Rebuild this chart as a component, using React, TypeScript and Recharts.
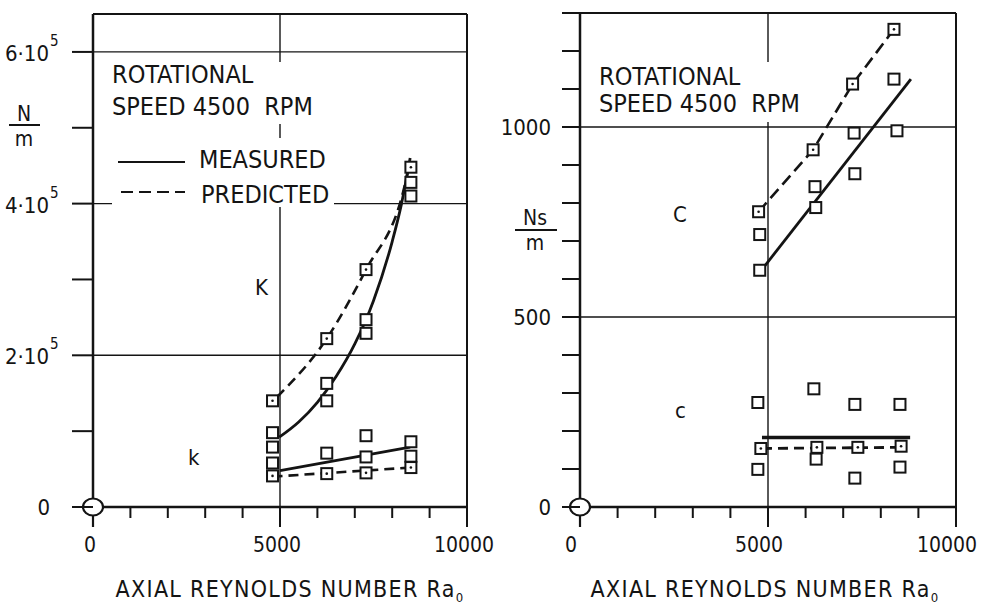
import { ComposedChart, Line, Scatter, XAxis, YAxis, ReferenceLine, ReferenceDot } from "recharts";

const FONT = "'DejaVu Sans Condensed', 'DejaVu Sans', sans-serif";
const INK = "#141414";

// Reynolds number ticks shared by both panels
const xTicks = [0, 1000, 2000, 3000, 4000, 5000, 6000, 7000, 8000, 9000, 10000];

// stiffness panel (N/m)
const stiffTicks = [0, 100000, 200000, 300000, 400000, 500000, 600000];
const stiffGrid = [200000, 400000, 600000];

const bigKMeasured = [
  { x: 4800, y: 98000 },
  { x: 6250, y: 163000 },
  { x: 6250, y: 140000 },
  { x: 7300, y: 247000 },
  { x: 7300, y: 229000 },
  { x: 8500, y: 428000 },
  { x: 8500, y: 410000 },
];
const bigKPredicted = [
  { x: 4800, y: 140000 },
  { x: 6250, y: 222000 },
  { x: 7300, y: 313000 },
  { x: 8500, y: 448000 },
];
const bigKMeasuredCurve = [
  { x: 4980, y: 92000 },
  { x: 5500, y: 112000 },
  { x: 6000, y: 138000 },
  { x: 6500, y: 172000 },
  { x: 7000, y: 215000 },
  { x: 7500, y: 272000 },
  { x: 8000, y: 350000 },
  { x: 8250, y: 400000 },
  { x: 8480, y: 460000 },
];
const bigKPredictedCurve = [
  { x: 4920, y: 145000 },
  { x: 6250, y: 222000 },
  { x: 7300, y: 313000 },
  { x: 8290, y: 415000 },
  { x: 8480, y: 455000 },
];

const smallKMeasured = [
  { x: 4800, y: 79000 },
  { x: 4800, y: 58000 },
  { x: 6250, y: 71000 },
  { x: 7300, y: 94000 },
  { x: 7300, y: 66000 },
  { x: 8500, y: 86000 },
  { x: 8500, y: 67000 },
];
const smallKPredicted = [
  { x: 4800, y: 41000 },
  { x: 6250, y: 44000 },
  { x: 7300, y: 45000 },
  { x: 8500, y: 52000 },
];
const smallKMeasuredLine = [
  { x: 5000, y: 48000 },
  { x: 8480, y: 79000 },
];
const smallKPredictedLine = [
  { x: 4800, y: 40000 },
  { x: 8500, y: 52000 },
];

// damping panel (Ns/m)
const dampTicks = [0, 100, 200, 300, 400, 500, 600, 700, 800, 900, 1000, 1100, 1200, 1300];
const dampGrid = [500, 1000];

const bigCMeasured = [
  { x: 4780, y: 717 },
  { x: 4780, y: 623 },
  { x: 6250, y: 843 },
  { x: 6270, y: 788 },
  { x: 7290, y: 984 },
  { x: 7310, y: 877 },
  { x: 8350, y: 1126 },
  { x: 8430, y: 990 },
];
const bigCPredicted = [
  { x: 4750, y: 777 },
  { x: 6200, y: 940 },
  { x: 7250, y: 1113 },
  { x: 8350, y: 1257 },
];
const bigCMeasuredLine = [
  { x: 4800, y: 620 },
  { x: 8800, y: 1126 },
];

const smallCMeasured = [
  { x: 4730, y: 275 },
  { x: 6220, y: 311 },
  { x: 7310, y: 270 },
  { x: 8510, y: 270 },
  { x: 4730, y: 99 },
  { x: 6280, y: 126 },
  { x: 7310, y: 76 },
  { x: 8510, y: 105 },
];
const smallCPredicted = [
  { x: 4810, y: 154 },
  { x: 6300, y: 157 },
  { x: 7390, y: 157 },
  { x: 8540, y: 160 },
];
const smallCMeasuredLine = [
  { x: 4840, y: 183 },
  { x: 8780, y: 183 },
];
const smallCPredictedLine = [
  { x: 4840, y: 154 },
  { x: 8640, y: 157 },
];

const OpenSquare = (p: any) => (
  <rect x={p.cx - 5.5} y={p.cy - 5.5} width={11} height={11} fill="#fff" stroke={INK} strokeWidth={2} />
);

const DotSquare = (p: any) => (
  <g>
    <rect x={p.cx - 5.5} y={p.cy - 5.5} width={11} height={11} fill="#fff" stroke={INK} strokeWidth={2} />
    <circle cx={p.cx} cy={p.cy} r={1.3} fill={INK} />
  </g>
);

const OriginMark = (p: any) => (
  <g>
    <line x1={p.cx} x2={p.cx} y1={p.cy} y2={p.cy + 20} stroke={INK} strokeWidth={2.2} />
    <ellipse cx={p.cx} cy={p.cy} rx={10} ry={8.5} fill="#fff" stroke={INK} strokeWidth={2.2} />
  </g>
);

const XTick = (p: any) => {
  const v = p.payload.value;
  const major = v % 5000 === 0;
  return (
    <g>
      {v !== 0 && (
        <line x1={p.x} x2={p.x} y1={p.y} y2={p.y + (major ? 20 : 11)} stroke={INK} strokeWidth={2} />
      )}
      {major && (
        <text x={p.x + (p.shift ?? 0)} y={p.y + 45} textAnchor="middle" fontSize={21} fill={INK} fontFamily={FONT}>
          {v}
        </text>
      )}
    </g>
  );
};

const StiffTick = (p: any) => {
  const v = p.payload.value;
  const exp = v / 100000;
  return (
    <g>
      <line x1={p.x - 21} x2={p.x} y1={p.y} y2={p.y} stroke={INK} strokeWidth={2} />
      {v === 0 && (
        <text x={p.x - 43} y={p.y + 8} textAnchor="end" fontSize={22} fill={INK} fontFamily={FONT}>
          0
        </text>
      )}
      {v > 0 && exp % 2 === 0 && (
        <g fontFamily={FONT} fill={INK}>
          <text x={p.x - 44} y={p.y + 9} textAnchor="end" fontSize={22}>
            {`${exp}·10`}
          </text>
          <text x={p.x - 43} y={p.y - 6} fontSize={15}>
            5
          </text>
        </g>
      )}
    </g>
  );
};

const DampTick = (p: any) => {
  const v = p.payload.value;
  return (
    <g>
      <line x1={p.x - 18} x2={p.x} y1={p.y} y2={p.y} stroke={INK} strokeWidth={2} />
      {v % 500 === 0 && (
        <text x={p.x - 29} y={p.y + 8} textAnchor="end" fontSize={22} fill={INK} fontFamily={FONT}>
          {v}
        </text>
      )}
    </g>
  );
};

const gridStroke = { stroke: INK, strokeWidth: 1.4 };

function StiffnessPanel() {
  return (
    <ComposedChart width={520} height={607} margin={{ top: 14, right: 53, bottom: 0, left: 0 }}>
      <XAxis
        type="number"
        dataKey="x"
        domain={[0, 10000]}
        ticks={xTicks}
        height={100}
        tickSize={0}
        tickMargin={0}
        tickLine={false}
        axisLine={{ stroke: INK, strokeWidth: 2.5 }}
        tick={<XTick shift={-3} />}
        interval={0}
      />
      <YAxis
        type="number"
        dataKey="y"
        domain={[0, 650000]}
        ticks={stiffTicks}
        width={93}
        tickSize={0}
        tickMargin={0}
        tickLine={false}
        axisLine={{ stroke: INK, strokeWidth: 2.5 }}
        tick={<StiffTick />}
        interval={0}
      />
      {stiffGrid.map((v) => (
        <ReferenceLine key={v} y={v} {...gridStroke} />
      ))}
      <ReferenceLine x={5000} {...gridStroke} />
      <ReferenceLine y={650000} stroke={INK} strokeWidth={2} />
      <ReferenceLine x={10000} stroke={INK} strokeWidth={2} />

      <Line data={bigKMeasuredCurve} dataKey="y" type="monotone" stroke={INK} strokeWidth={2.8} dot={false} isAnimationActive={false} />
      <Line data={bigKPredictedCurve} dataKey="y" type="monotone" stroke={INK} strokeWidth={2.6} strokeDasharray="10 6" dot={false} isAnimationActive={false} />
      <Line data={smallKMeasuredLine} dataKey="y" type="linear" stroke={INK} strokeWidth={2.8} dot={false} isAnimationActive={false} />
      <Line data={smallKPredictedLine} dataKey="y" type="linear" stroke={INK} strokeWidth={2.6} strokeDasharray="10 6" dot={false} isAnimationActive={false} />

      <Scatter data={bigKMeasured} shape={<OpenSquare />} isAnimationActive={false} />
      <Scatter data={smallKMeasured} shape={<OpenSquare />} isAnimationActive={false} />
      <Scatter data={bigKPredicted} shape={<DotSquare />} isAnimationActive={false} />
      <Scatter data={smallKPredicted} shape={<DotSquare />} isAnimationActive={false} />

      <ReferenceDot x={0} y={0} ifOverflow="visible" shape={<OriginMark />} />
    </ComposedChart>
  );
}

function DampingPanel() {
  return (
    <ComposedChart width={492} height={607} margin={{ top: 13, right: 26, bottom: 0, left: 0 }}>
      <XAxis
        type="number"
        dataKey="x"
        domain={[0, 10000]}
        ticks={xTicks}
        height={100}
        tickSize={0}
        tickMargin={0}
        tickLine={false}
        axisLine={{ stroke: INK, strokeWidth: 2.5 }}
        tick={<XTick shift={-9} />}
        interval={0}
      />
      <YAxis
        type="number"
        dataKey="y"
        domain={[0, 1300]}
        ticks={dampTicks}
        width={90}
        tickSize={0}
        tickMargin={0}
        tickLine={false}
        axisLine={{ stroke: INK, strokeWidth: 2.5 }}
        tick={<DampTick />}
        interval={0}
      />
      {dampGrid.map((v) => (
        <ReferenceLine key={v} y={v} {...gridStroke} />
      ))}
      <ReferenceLine x={5000} {...gridStroke} />
      <ReferenceLine y={1300} stroke={INK} strokeWidth={2} />
      <ReferenceLine x={10000} stroke={INK} strokeWidth={2} />

      <Line data={bigCMeasuredLine} dataKey="y" type="linear" stroke={INK} strokeWidth={2.8} dot={false} isAnimationActive={false} />
      <Line data={bigCPredicted} dataKey="y" type="linear" stroke={INK} strokeWidth={2.6} strokeDasharray="12 6" dot={false} isAnimationActive={false} />
      <Line data={smallCMeasuredLine} dataKey="y" type="linear" stroke={INK} strokeWidth={3.4} dot={false} isAnimationActive={false} />
      <Line data={smallCPredictedLine} dataKey="y" type="linear" stroke={INK} strokeWidth={2.8} strokeDasharray="10 6" dot={false} isAnimationActive={false} />

      <Scatter data={bigCMeasured} shape={<OpenSquare />} isAnimationActive={false} />
      <Scatter data={smallCMeasured} shape={<OpenSquare />} isAnimationActive={false} />
      <Scatter data={bigCPredicted} shape={<DotSquare />} isAnimationActive={false} />
      <Scatter data={smallCPredicted} shape={<DotSquare />} isAnimationActive={false} />

      <ReferenceDot x={0} y={0} ifOverflow="visible" shape={<OriginMark />} />
    </ComposedChart>
  );
}

const txt = { fontFamily: FONT, fill: INK };

function Annotations() {
  return (
    <svg width={982} height={607} style={{ position: "absolute", left: 0, top: 0, pointerEvents: "none" }}>
      {/* left panel text block */}
      <rect x={108} y={62} width={220} height={62} fill="#fff" />
      <rect x={112} y={138} width={222} height={69} fill="#fff" />
      <text x={112} y={83} fontSize={25} {...txt}>ROTATIONAL</text>
      <text x={112} y={115} fontSize={25} {...txt} style={{ whiteSpace: "pre" }}>SPEED 4500  RPM</text>
      <line x1={118} x2={185} y1={162} y2={162} stroke={INK} strokeWidth={2.2} />
      <text x={199} y={168} fontSize={25} {...txt}>MEASURED</text>
      <line x1={121} x2={185} y1={192} y2={192} stroke={INK} strokeWidth={2.2} strokeDasharray="12 6" />
      <text x={201} y={203} fontSize={25} {...txt}>PREDICTED</text>
      <text x={255} y={295} fontSize={22} {...txt}>K</text>
      <text x={188} y={465} fontSize={22} {...txt}>k</text>

      {/* left y-axis unit */}
      <text x={24} y={121} fontSize={21} textAnchor="middle" {...txt}>N</text>
      <line x1={9} x2={40} y1={125} y2={125} stroke={INK} strokeWidth={2} />
      <text x={24} y={146} fontSize={21} textAnchor="middle" {...txt}>m</text>

      {/* right panel text block */}
      <rect x={595} y={62} width={212} height={60} fill="#fff" />
      <text x={599} y={85} fontSize={25} {...txt}>ROTATIONAL</text>
      <text x={599} y={112} fontSize={25} {...txt} style={{ whiteSpace: "pre" }}>SPEED 4500  RPM</text>
      <text x={673} y={222} fontSize={22} {...txt}>C</text>
      <text x={675} y={418} fontSize={22} {...txt}>c</text>

      {/* right y-axis unit */}
      <text x={535} y={225} fontSize={21} textAnchor="middle" {...txt}>Ns</text>
      <line x1={515} x2={557} y1={230} y2={230} stroke={INK} strokeWidth={2} />
      <text x={535} y={250} fontSize={21} textAnchor="middle" {...txt}>m</text>

      {/* axis titles */}
      {[290, 765].map((cx) => (
        <text key={cx} x={cx} y={597} fontSize={23} textAnchor="middle" letterSpacing={1.3} {...txt}>
          AXIAL REYNOLDS NUMBER Ra
          <tspan fontSize={13} dy={5}>0</tspan>
        </text>
      ))}
    </svg>
  );
}

export default function App() {
  return (
    <div style={{ position: "absolute", left: 0, top: 0, width: 982, height: 607, background: "#fff" }}>
      <div style={{ position: "absolute", left: 0, top: 0 }}>
        <StiffnessPanel />
      </div>
      <div style={{ position: "absolute", left: 490, top: 0 }}>
        <DampingPanel />
      </div>
      <Annotations />
    </div>
  );
}
